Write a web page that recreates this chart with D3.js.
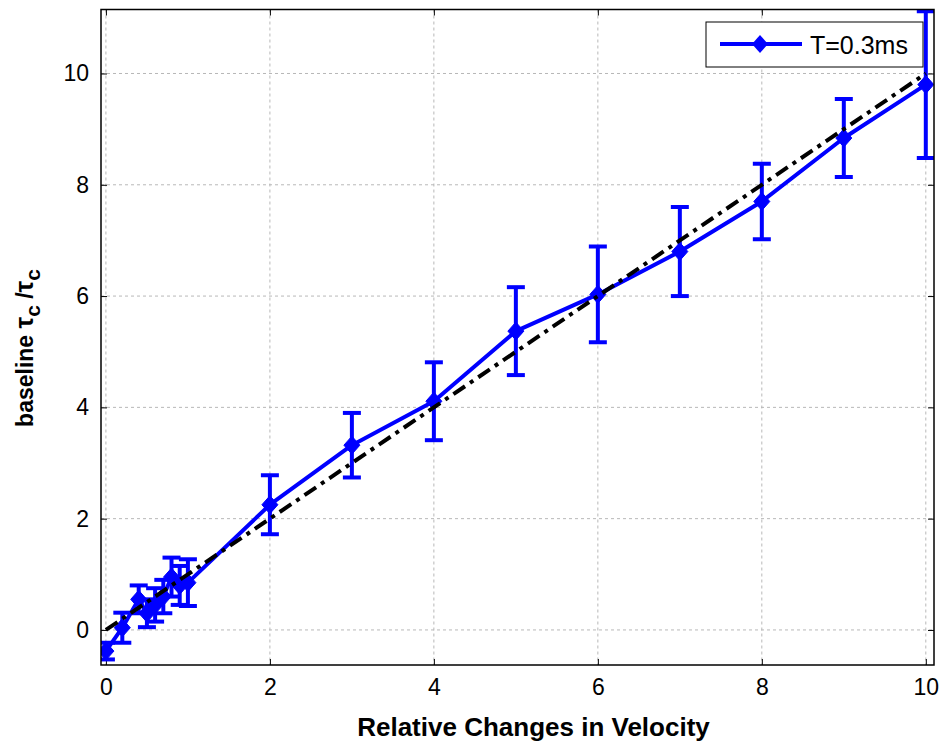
<!DOCTYPE html>
<html><head><meta charset="utf-8">
<script src="https://cdn.jsdelivr.net/npm/d3@7/dist/d3.min.js"></script>
<style>body{margin:0;background:#fff;}svg{display:block;font-family:"Liberation Sans",Arial,Helvetica,sans-serif;}</style>
</head><body><svg id="c" width="944" height="744"></svg>
<script>
const xValues = [0, 0.2, 0.4, 0.5, 0.6, 0.7, 0.8, 0.9, 1, 2, 3, 4, 5, 6, 7, 8, 9, 10];
const yValues = [-0.38, 0.04, 0.55, 0.3, 0.45, 0.6, 0.95, 0.8, 0.85, 2.25, 3.32, 4.11, 5.37, 6.03, 6.8, 7.7, 8.84, 9.8];
const yErrors = [0.15, 0.27, 0.25, 0.25, 0.3, 0.3, 0.35, 0.35, 0.42, 0.53, 0.58, 0.7, 0.79, 0.86, 0.8, 0.68, 0.7, 1.32];
const refLine = [[0, 0], [10, 10]];
const xTicks = [0, 2, 4, 6, 8, 10];
const yTicks = [0, 2, 4, 6, 8, 10];
const legendLabel = "T=0.3ms";

const svg = d3.select("#c");
const L = 101, R = 934, T = 9.5, B = 665;
const x = d3.scaleLinear().domain([-0.06, 10.1]).range([L, R]);
const y = d3.scaleLinear().domain([-0.63, 11.15]).range([B, T]);

// grid
const g = svg.append("g");
g.selectAll(".gx").data(xTicks).join("line")
  .attr("x1", d => x(d)).attr("x2", d => x(d)).attr("y1", T).attr("y2", B)
  .attr("stroke", "#b8b8b8").attr("stroke-width", 1).attr("stroke-dasharray", "3,3");
g.selectAll(".gy").data(yTicks).join("line")
  .attr("y1", d => y(d)).attr("y2", d => y(d)).attr("x1", L).attr("x2", R)
  .attr("stroke", "#b8b8b8").attr("stroke-width", 1).attr("stroke-dasharray", "3,3");

// axes (ticks inward)
const xAxB = d3.axisBottom(x).tickValues(xTicks).tickSizeInner(-6).tickSizeOuter(0).tickPadding(14);
const xAxT = d3.axisTop(x).tickValues(xTicks).tickSizeInner(-6).tickSizeOuter(0).tickFormat("");
const yAxL = d3.axisLeft(y).tickValues(yTicks).tickSizeInner(-6).tickSizeOuter(0).tickPadding(12);
const yAxR = d3.axisRight(y).tickValues(yTicks).tickSizeInner(-6).tickSizeOuter(0).tickFormat("");
function style(sel){ sel.select(".domain").remove(); sel.selectAll("line").attr("stroke","#000");
  sel.selectAll("text").attr("font-size", 23).attr("fill","#000").attr("font-family",'"Liberation Sans",Arial,sans-serif'); }
svg.append("g").attr("transform", `translate(0,${B})`).call(xAxB).call(style);
svg.append("g").attr("transform", `translate(0,${T})`).call(xAxT).call(style);
svg.append("g").attr("transform", `translate(${L},0)`).call(yAxL).call(style);
svg.append("g").attr("transform", `translate(${R},0)`).call(yAxR).call(style);

const clip = svg.append("clipPath").attr("id","clp").append("rect")
  .attr("x", L).attr("y", T).attr("width", R - L).attr("height", B - T);
const plot = svg.append("g").attr("clip-path", "url(#clp)");

const data = xValues.map((v, i) => ({x: v, y: yValues[i], e: yErrors[i]}));
const blue = "#0000ff";
// error bars
const eb = plot.append("g").attr("stroke", blue).attr("stroke-width", 4);
eb.selectAll(".v").data(data).join("line")
  .attr("x1", d => x(d.x)).attr("x2", d => x(d.x))
  .attr("y1", d => y(d.y - d.e)).attr("y2", d => y(d.y + d.e));
eb.selectAll(".t").data(data).join("line")
  .attr("x1", d => x(d.x) - 9).attr("x2", d => x(d.x) + 9)
  .attr("y1", d => y(d.y + d.e)).attr("y2", d => y(d.y + d.e));
eb.selectAll(".b").data(data).join("line")
  .attr("x1", d => x(d.x) - 9).attr("x2", d => x(d.x) + 9)
  .attr("y1", d => y(d.y - d.e)).attr("y2", d => y(d.y - d.e));

// line
plot.append("path").datum(data)
  .attr("d", d3.line().x(d => x(d.x)).y(d => y(d.y)))
  .attr("stroke", blue).attr("stroke-width", 4).attr("fill", "none").attr("stroke-linejoin","round");

const diamond = "M0,-9L8,0L0,9L-8,0Z";
plot.selectAll(".m").data(data).join("path")
  .attr("transform", d => `translate(${x(d.x)},${y(d.y)})`)
  .attr("d", diamond).attr("fill", blue).attr("stroke", blue).attr("stroke-width", 1);

// reference line (drawn on top)
plot.append("path").datum(refLine)
  .attr("d", d3.line().x(d => x(d[0])).y(d => y(d[1])))
  .attr("stroke", "#000").attr("stroke-width", 4).attr("fill", "none")
  .attr("stroke-dasharray", "14,6,4,6");

// box
svg.append("rect").attr("x", L).attr("y", T).attr("width", R - L).attr("height", B - T)
  .attr("fill", "none").attr("stroke", "#000").attr("stroke-width", 1.5);

// legend
const lg = svg.append("g");
lg.append("rect").attr("x", 706).attr("y", 22).attr("width", 217).attr("height", 45)
  .attr("fill", "#fff").attr("stroke", "#000").attr("stroke-width", 1);
lg.append("line").attr("x1", 720).attr("x2", 802).attr("y1", 44).attr("y2", 44)
  .attr("stroke", blue).attr("stroke-width", 4);
lg.append("path").attr("transform", "translate(760,44)").attr("d", diamond).attr("fill", blue);
lg.append("text").attr("x", 810).attr("y", 54).attr("font-size", 25).text(legendLabel);

// axis titles
svg.append("text").attr("x", (L + R) / 2 + 16).attr("y", 736).attr("text-anchor", "middle")
  .attr("font-size", 26).attr("font-weight", "bold").text("Relative Changes in Velocity");
const yl = svg.append("text").attr("transform", `translate(33,348) rotate(-90)`)
  .attr("text-anchor", "middle").attr("font-size", 23).attr("font-weight", "bold");
yl.append("tspan").text("baseline ");
yl.append("tspan").attr("font-size", 26).text("τ");
yl.append("tspan").attr("font-size", 21).attr("dy", 7).text("c");
yl.append("tspan").attr("dy", -7).text("  /");
yl.append("tspan").attr("font-size", 26).text("τ");
yl.append("tspan").attr("font-size", 21).attr("dy", 7).text("c");
</script></body></html>
